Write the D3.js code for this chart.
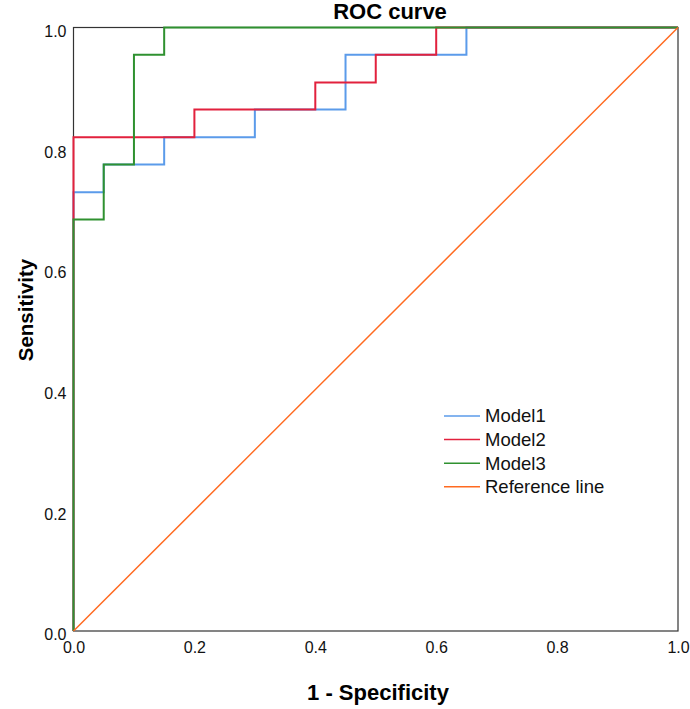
<!DOCTYPE html>
<html>
<head>
<meta charset="utf-8">
<script src="https://cdn.jsdelivr.net/npm/d3@7"></script>
<style>
  body { margin: 0; background: #fff; }
  svg { display: block; font-family: "Liberation Sans", Arial, sans-serif; }
</style>
</head>
<body>
<svg id="chart" width="690" height="709"></svg>
<script>
// ROC points as [1 - specificity, sensitivity]
const model1 = [[0, 0], [0, 0.727], [0.05, 0.727], [0.05, 0.773], [0.15, 0.773], [0.15, 0.818],
  [0.3, 0.818], [0.3, 0.864], [0.45, 0.864], [0.45, 0.955], [0.65, 0.955], [0.65, 1], [1, 1]];
const model2 = [[0, 0], [0, 0.818], [0.2, 0.818], [0.2, 0.864], [0.4, 0.864], [0.4, 0.909],
  [0.5, 0.909], [0.5, 0.955], [0.6, 0.955], [0.6, 1], [1, 1]];
const model3 = [[0, 0], [0, 0.682], [0.05, 0.682], [0.05, 0.773], [0.1, 0.773], [0.1, 0.955],
  [0.15, 0.955], [0.15, 1], [1, 1]];
const refLine = [[0, 0], [1, 1]];

const seriesNames = ['Model1', 'Model2', 'Model3', 'Reference line'];
const tickValues = [0, 0.2, 0.4, 0.6, 0.8, 1.0];

const colors = ['#5b9bea', '#e2213d', '#2f9130', '#ff6a20'];
const series = [model1, model2, model3, refLine];

const margin = { top: 27.5, right: 12, bottom: 78, left: 73.5 };
const width = 690, height = 709;

const svg = d3.select('#chart');

const x = d3.scaleLinear().domain([0, 1]).range([margin.left, width - margin.right]);
const y = d3.scaleLinear().domain([0, 1]).range([height - margin.bottom, margin.top]);

// frame
svg.append('rect')
  .attr('x', x(0)).attr('y', y(1))
  .attr('width', x(1) - x(0)).attr('height', y(0) - y(1))
  .attr('fill', 'none').attr('stroke', '#333').attr('stroke-width', 1.2);

// axes, labels only
const xAxis = svg.append('g')
  .attr('transform', `translate(0,${y(0)})`)
  .call(d3.axisBottom(x).tickValues(tickValues).tickFormat(d3.format('.1f')).tickSize(0).tickPadding(11));
const yAxis = svg.append('g')
  .attr('transform', `translate(${x(0)},0)`)
  .call(d3.axisLeft(y).tickValues(tickValues).tickFormat(d3.format('.1f')).tickSize(0).tickPadding(7));
[xAxis, yAxis].forEach(g => {
  g.select('.domain').remove();
  g.selectAll('text').attr('font-size', 16).attr('fill', '#111')
    .attr('font-family', '"Liberation Sans", Arial, sans-serif');
});
yAxis.selectAll('text').attr('dy', '0.55em');

const line = d3.line().x(d => x(d[0])).y(d => y(d[1]));

series.forEach((s, i) => {
  svg.append('path')
    .datum(s)
    .attr('d', line)
    .attr('fill', 'none')
    .attr('stroke', colors[i])
    .attr('stroke-width', i === 3 ? 1.5 : 2);
});

// title and axis titles
svg.append('text')
  .attr('x', 390).attr('y', 18.5)
  .attr('text-anchor', 'middle')
  .attr('font-size', 22).attr('font-weight', 'bold')
  .text('ROC curve');

svg.append('text')
  .attr('x', 378).attr('y', 700)
  .attr('text-anchor', 'middle')
  .attr('font-size', 22).attr('font-weight', 'bold')
  .text('1 - Specificity');

svg.append('text')
  .attr('transform', 'translate(33,310) rotate(-90)')
  .attr('text-anchor', 'middle')
  .attr('font-size', 20.5).attr('font-weight', 'bold')
  .text('Sensitivity');

// legend
const legend = svg.append('g').attr('transform', 'translate(444,416)');
const items = legend.selectAll('g')
  .data(seriesNames)
  .enter().append('g')
  .attr('transform', (d, i) => `translate(0,${i * 23.6})`);
items.append('line')
  .attr('x1', 0).attr('x2', 36)
  .attr('stroke', (d, i) => colors[i])
  .attr('stroke-width', 1.5);
items.append('text')
  .attr('x', 41).attr('dy', '0.35em')
  .attr('font-size', 18.5).attr('fill', '#111')
  .text(d => d);
</script>
</body>
</html>
